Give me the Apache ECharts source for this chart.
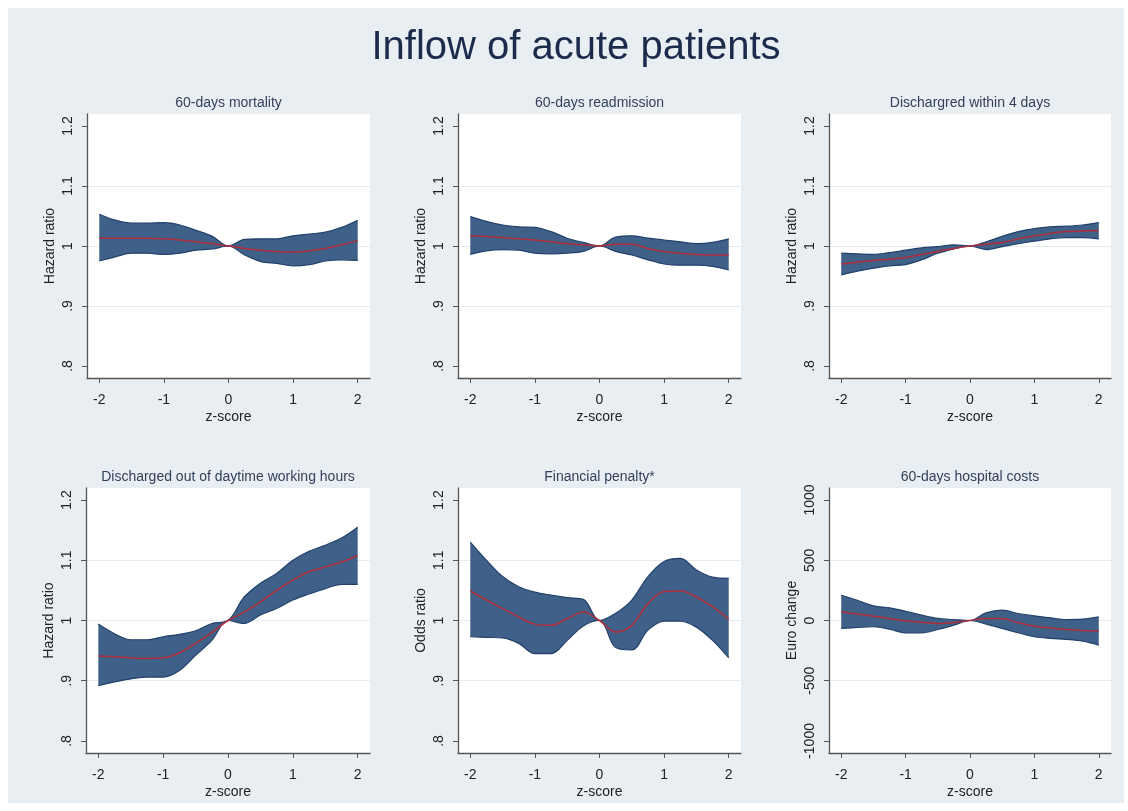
<!DOCTYPE html>
<html>
<head>
<meta charset="utf-8">
<script src="https://cdn.jsdelivr.net/npm/echarts@6/dist/echarts.min.js"></script>
<style>
html,body{margin:0;padding:0;background:#ffffff;}
#bg{position:absolute;left:8px;top:8px;width:1116px;height:795px;background:#e8eef2;}
#chart{position:absolute;left:0;top:0;width:1128px;height:811px;}
</style>
</head>
<body>
<div id="bg"></div>
<div id="chart"></div>
<script>
// ---------- data ----------
const mainTitle = 'Inflow of acute patients';
const panelTitles = ['60-days mortality','60-days readmission','Dischargred within 4 days',
  'Discharged out of daytime working hours','Financial penalty*','60-days hospital costs'];
const yNames = ['Hazard ratio','Hazard ratio','Hazard ratio','Hazard ratio','Odds ratio','Euro change'];
const xName = 'z-score';

const xs = [-2,-1.75,-1.5,-1.25,-1,-0.75,-0.5,-0.25,0,0.25,0.5,0.75,1,1.25,1.5,1.75,2];
const xTicks = [-2,-1,0,1,2];
const yTicksRatio = [0.8,0.9,1,1.1,1.2];
const yTicksEuro = [-1000,-500,0,500,1000];

const mortLower  = [0.975,0.982,0.988,0.988,0.986,0.988,0.993,0.995,1.0,0.985,0.974,0.971,0.967,0.969,0.975,0.977,0.976];
const mortUpper  = [1.053,1.043,1.038,1.038,1.039,1.035,1.026,1.016,1.0,1.011,1.012,1.012,1.017,1.020,1.023,1.031,1.043];
const mortEst    = [1.013,1.013,1.013,1.013,1.012,1.010,1.007,1.004,1.0,0.996,0.993,0.991,0.990,0.992,0.996,1.002,1.009];

const readmLower = [0.986,0.992,0.994,0.993,0.988,0.987,0.988,0.991,1.0,0.991,0.985,0.977,0.970,0.968,0.968,0.966,0.960];
const readmUpper = [1.049,1.041,1.035,1.032,1.031,1.024,1.013,1.006,1.0,1.015,1.017,1.013,1.010,1.007,1.004,1.006,1.012];
const readmEst   = [1.017,1.016,1.014,1.012,1.010,1.007,1.004,1.002,1.0,1.003,1.003,0.996,0.991,0.988,0.986,0.985,0.985];

const disc4Lower = [0.952,0.958,0.963,0.967,0.969,0.977,0.988,0.995,1.0,0.994,0.999,1.004,1.008,1.012,1.014,1.014,1.012];
const disc4Upper = [0.988,0.987,0.986,0.989,0.993,0.997,0.999,1.002,1.0,1.007,1.016,1.024,1.029,1.032,1.033,1.035,1.039];
const disc4Est   = [0.970,0.973,0.976,0.978,0.981,0.986,0.991,0.996,1.0,1.003,1.006,1.012,1.017,1.021,1.024,1.025,1.026];

const offhLower  = [0.892,0.898,0.903,0.906,0.906,0.917,0.942,0.967,1.0,0.995,1.009,1.020,1.034,1.044,1.053,1.060,1.060];
const offhUpper  = [0.994,0.978,0.968,0.968,0.973,0.977,0.983,0.995,1.0,1.039,1.062,1.078,1.100,1.115,1.125,1.137,1.155];
const offhEst    = [0.941,0.940,0.938,0.937,0.938,0.946,0.962,0.980,1.0,1.014,1.031,1.050,1.067,1.081,1.089,1.097,1.108];

const penLower   = [0.973,0.972,0.971,0.962,0.945,0.945,0.967,0.991,1.0,0.955,0.951,0.984,0.999,0.999,0.989,0.967,0.938];
const penUpper   = [1.130,1.100,1.073,1.056,1.047,1.042,1.038,1.035,1.0,1.012,1.034,1.073,1.098,1.103,1.084,1.072,1.070];
const penEst     = [1.049,1.034,1.020,1.006,0.994,0.992,1.003,1.014,1.0,0.981,0.992,1.028,1.048,1.049,1.039,1.023,1.002];

const costLower  = [-66,-58,-52,-72,-102,-102,-75,-39,0,-30,-66,-102,-135,-149,-157,-171,-204];
const costUpper  = [210,168,122,105,77,44,17,8,0,64,86,58,39,22,8,11,30];
const costEst    = [72,54,36,17,-3,-15,-25,-17,0,17,17,-19,-47,-62,-75,-82,-88];

// ---------- styles ----------
const FONT = "'Liberation Sans', Arial, Helvetica, sans-serif";
const FILL = '#3f6088';
const OUT = '#21416a';
const RED = '#b12d3a';
const AX = '#555555';
const GRIDC = '#e6ebef';
const TXT = '#222222';

const grids = [
  {left:87, top:114, width:283, height:264},
  {left:458, top:114, width:283, height:264},
  {left:829, top:114, width:282, height:264},
  {left:86, top:488, width:284, height:265},
  {left:458, top:488, width:283, height:265},
  {left:829, top:488, width:282, height:265}
];

const panels = [
  [mortLower, mortUpper, mortEst],
  [readmLower, readmUpper, readmEst],
  [disc4Lower, disc4Upper, disc4Est],
  [offhLower, offhUpper, offhEst],
  [penLower, penUpper, penEst],
  [costLower, costUpper, costEst]
];

function ratioFmt(v){ const s = String(+(+v).toFixed(1)); return s.replace(/^0\./,'.'); }

const xAxes = [], yAxes = [], series = [], graphics = [];
grids.forEach((g, i) => {
  g.show = true; g.backgroundColor = '#ffffff'; g.borderWidth = 0;
  const euro = (i === 5);
  xAxes.push({
    gridIndex:i, type:'value', min:-2.19, max:2.19,
    axisLine:{show:true, onZero:false, lineStyle:{color:AX, width:1.3}},
    axisTick:{show:true, customValues:xTicks, length:5, lineStyle:{color:AX, width:1}},
    axisLabel:{customValues:xTicks, margin:15, fontSize:14, color:TXT, fontFamily:FONT},
    splitLine:{show:false},
    name:xName, nameLocation:'middle', nameGap:32,
    nameTextStyle:{fontSize:14, color:TXT, fontFamily:FONT}
  });
  const yt = euro ? yTicksEuro : yTicksRatio;
  yAxes.push({
    gridIndex:i, type:'value',
    min: euro ? -1100 : 0.78, max: euro ? 1100 : 1.22,
    axisLine:{show:true, onZero:false, lineStyle:{color:AX, width:1.3}},
    axisTick:{show:true, customValues:yt, length:5, lineStyle:{color:AX, width:1}},
    axisLabel:{customValues:yt, rotate:90, margin:12, fontSize:14, color:TXT, fontFamily:FONT,
      formatter: euro ? (v => String(v)) : ratioFmt},
    splitLine:{show:true, showMinLine:false, showMaxLine:false, lineStyle:{color:GRIDC, width:1}},
    name:yNames[i], nameLocation:'middle', nameGap:30, nameRotate:90,
    nameTextStyle:{fontSize:14, color:TXT, fontFamily:FONT}
  });
  const [lo, up, est] = panels[i];
  // data given as [value, x] so that the stacked dimension is the value (y) one
  series.push({
    type:'line', xAxisIndex:i, yAxisIndex:i, stack:'band'+i, stackStrategy:'all',
    encode:{x:1, y:0},
    data: xs.map((x,k) => [lo[k], x]), smooth:0.35, symbol:'none', silent:true, z:4,
    lineStyle:{color:OUT, width:1.2}
  });
  series.push({
    type:'line', xAxisIndex:i, yAxisIndex:i, stack:'band'+i, stackStrategy:'all',
    encode:{x:1, y:0},
    data: xs.map((x,k) => [up[k] - lo[k], x]), smooth:0.35, symbol:'none', silent:true, z:3,
    lineStyle:{color:OUT, width:1.2}, areaStyle:{color:FILL, opacity:1}
  });
  series.push({
    type:'line', xAxisIndex:i, yAxisIndex:i,
    data: xs.map((x,k) => [x, est[k]]), smooth:0.35, symbol:'none', silent:true, z:5,
    lineStyle:{color:RED, width:1.5}
  });
  graphics.push({
    type:'text', x: g.left + g.width/2, y: (i < 3 ? 103 : 477),
    style:{text:panelTitles[i], align:'center', verticalAlign:'middle',
      font:"14px " + FONT, fill:'#33415c'}
  });
});
graphics.push({
  type:'text', x:576, y:48,
  style:{text:mainTitle, align:'center', verticalAlign:'middle', font:"40px " + FONT, fill:'#1b2b4b'}
});

const chart = echarts.init(document.getElementById('chart'), null, {renderer:'canvas'});
chart.setOption({
  backgroundColor:'transparent',
  animation:false,
  grid: grids,
  xAxis: xAxes,
  yAxis: yAxes,
  series: series,
  graphic: graphics
});
</script>
</body>
</html>
